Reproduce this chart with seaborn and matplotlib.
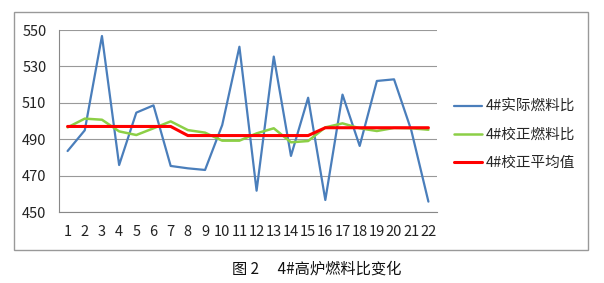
import matplotlib
matplotlib.use("Agg")
import matplotlib.pyplot as plt
import seaborn as sns
import pandas as pd
import numpy as np
from matplotlib.patches import Rectangle
from matplotlib.ticker import FixedLocator

sns.set_theme(style="white")
plt.rcParams['font.family'] = ['Noto Sans CJK SC', 'DejaVu Sans']

categories = list(range(1, 23))
actual = [483.5, 494.9, 546.7, 475.8, 504.6, 508.6, 475.3, 474.0, 473.1, 497.8, 540.8,
          461.7, 535.4, 480.8, 512.8, 456.6, 514.5, 486.3, 522.0, 522.9, 495.0, 455.7]
corrected = [496.5, 501.3, 500.7, 494.3, 492.3, 496.0, 499.8, 495.0, 493.6, 489.2, 489.2,
             493.2, 496.0, 488.3, 489.0, 496.5, 498.7, 496.0, 494.5, 496.2, 496.0, 495.2]
mean_val = [497.0] * 7 + [492.0] * 8 + [496.3] * 7
series_names = ["4#实际燃料比", "4#校正燃料比", "4#校正平均值"]
colors = ["#4A7EBB", "#8CCF46", "#FF0000"]
widths = [1.6, 1.8, 2.2]
yticks = [450, 470, 490, 510, 530, 550]
caption = "图 2　 4#高炉燃料比变化"

df = pd.DataFrame({"x": categories * 3,
                   "y": actual + corrected + mean_val,
                   "s": [series_names[0]] * 22 + [series_names[1]] * 22 + [series_names[2]] * 22})

W, H = 604, 283
fig = plt.figure(figsize=(W / 100, H / 100), dpi=100)
ax = fig.add_axes([59 / W, 1 - 212 / H, (437 - 59) / W, (212 - 30) / H])

for name, c, lw in zip(series_names, colors, widths):
    sub = df[df["s"] == name]
    sns.lineplot(data=sub, x="x", y="y", ax=ax, color=c, linewidth=lw, label=name)

ax.set_xlim(0.5, 22.5)
ax.set_ylim(450, 550)
ax.set_yticks(yticks)
ax.set_xticks(categories)
ax.set_xticklabels([str(c) for c in categories])
ax.xaxis.set_minor_locator(FixedLocator(np.arange(0.5, 23, 1)))
ax.tick_params(axis='x', which='major', length=0, pad=9, labelsize=10.5, colors="#222222")
ax.tick_params(axis='x', which='minor', length=5, width=0.8, color="#888888", direction='out')
ax.tick_params(axis='y', which='major', length=5, width=0.8, color="#888888", direction='out',
               labelsize=10.5, labelcolor="#222222", pad=4)
ax.set_xlabel("")
ax.set_ylabel("")
ax.grid(axis='y', color="#999999", linewidth=0.8)
for side in ["top", "right"]:
    ax.spines[side].set_visible(False)
for side in ["left", "bottom"]:
    ax.spines[side].set_color("#888888")
    ax.spines[side].set_linewidth(0.8)

leg = ax.legend(loc="upper left", bbox_to_anchor=(454 / W, 1 - 100 / H), bbox_transform=fig.transFigure,
                frameon=False, fontsize=10.5, handlelength=1.9, handletextpad=0.25, labelspacing=0.95,
                borderaxespad=0, borderpad=0)

fig.patches.append(Rectangle((14 / W, 1 - 250 / H), (588 - 14) / W, (250 - 12) / H,
                             transform=fig.transFigure, fill=False, edgecolor="#999999", linewidth=1.0))
fig.text(317 / W, 1 - 269 / H, caption, ha="center", va="center", fontsize=11, color="#111111")

fig.savefig("out.png", dpi=100)
